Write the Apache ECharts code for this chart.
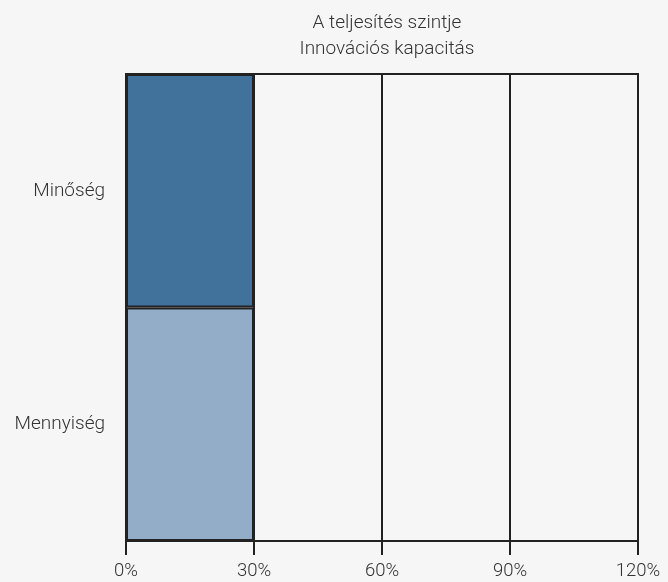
<!DOCTYPE html>
<html>
<head>
<meta charset="utf-8">
<script src="https://cdn.jsdelivr.net/npm/echarts@6/dist/echarts.min.js"></script>
<style>
html,body{margin:0;padding:0;background:#f6f6f6;}
#c{width:668px;height:582px;}
</style>
</head>
<body>
<div id="c"></div>
<script>
const titleLines = ['A teljesítés szintje', 'Innovációs kapacitás'];
const categories = ['Mennyiség', 'Minőség'];
const values = [30, 30];
const barColors = ['#93acc8', '#41729b'];
const xTicks = [0, 30, 60, 90, 120];

const FONT = 'Roboto';
const axisBase = {
  type: 'value',
  position: 'bottom',
  min: xTicks[0], max: xTicks[xTicks.length - 1], interval: 30
};
const chart = echarts.init(document.getElementById('c'));
chart.setOption({
  backgroundColor: '#f6f6f6',
  animation: false,
  title: {
    text: titleLines.join('\n'),
    left: 382,
    top: 5,
    textAlign: 'center',
    textStyle: {fontFamily: FONT, fontWeight: 300, fontSize: 19, lineHeight: 26, color: '#333'}
  },
  grid: {
    left: 126, right: 30, top: 74, bottom: 41,
    outerBoundsMode: 'none',
    containLabel: false,
    show: true, borderColor: '#222', borderWidth: 2, backgroundColor: 'transparent'
  },
  xAxis: [Object.assign({}, axisBase, {
    axisLine: {show: true, onZero: false, lineStyle: {color: '#222', width: 2}},
    axisTick: {show: true, inside: false, length: 14, lineStyle: {color: '#222', width: 2}},
    splitLine: {show: true, lineStyle: {color: '#222', width: 2}},
    axisLabel: {formatter: '{value}%', fontFamily: FONT, fontWeight: 300, fontSize: 18.5, color: '#333', margin: 21}
  }), Object.assign({}, axisBase, {
    offset: 6,
    axisLine: {show: false, onZero: false},
    axisTick: {show: true, inside: false, length: 8, lineStyle: {color: '#222', width: 2}},
    splitLine: {show: false},
    axisLabel: {show: false}
  })],
  yAxis: {
    type: 'category',
    data: categories,
    axisLine: {show: true, lineStyle: {color: '#222', width: 2}},
    axisTick: {show: false},
    axisLabel: {fontFamily: FONT, fontWeight: 300, fontSize: 19, color: '#333', margin: 21}
  },
  series: [{
    type: 'bar',
    barWidth: '100%',
    data: values.map((v, i) => ({value: v, itemStyle: {color: barColors[i]}})),
    itemStyle: {borderColor: '#222', borderWidth: 2}
  }]
});
</script>
</body>
</html>
